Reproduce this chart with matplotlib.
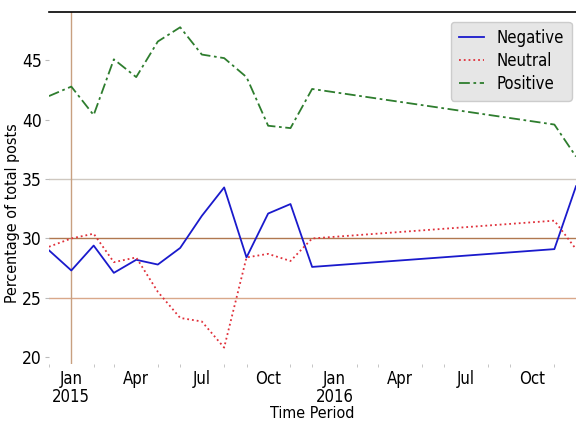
import matplotlib
matplotlib.use("Agg")
import matplotlib.pyplot as plt
import matplotlib.dates as mdates
import pandas as pd
import numpy as np

months = ["2014-12", "2015-01", "2015-02", "2015-03", "2015-04", "2015-05", "2015-06",
          "2015-07", "2015-08", "2015-09", "2015-10", "2015-11", "2015-12",
          "2016-11", "2016-12"]
negative = [29.0, 27.3, 29.4, 27.1, 28.2, 27.8, 29.2, 31.9, 34.3, 28.4, 32.1, 32.9, 27.6, 29.1, 34.4]
neutral = [29.3, 30.0, 30.4, 28.0, 28.4, 25.5, 23.3, 23.0, 20.8, 28.4, 28.7, 28.1, 30.0, 31.5, 29.1]
positive = [42.0, 42.8, 40.4, 45.1, 43.6, 46.6, 47.8, 45.5, 45.2, 43.6, 39.5, 39.3, 42.6, 39.6, 36.9]

tick_dates = ["2015-01", "2015-04", "2015-07", "2015-10", "2016-01", "2016-04", "2016-07", "2016-10"]
tick_labels = ["Jan\n2015", "Apr", "Jul", "Oct", "Jan\n2016", "Apr", "Jul", "Oct"]
yticks = [20, 25, 30, 35, 40, 45]

dates = pd.to_datetime(months)

plt.rcParams['font.family'] = ['DejaVu Sans']
fig = plt.figure(figsize=(5.76, 4.23), dpi=100)
ax = fig.add_axes([0.085, 0.139, 0.915, 0.833])

ax.plot(dates, negative, color="#1a1acc", lw=1.3, ls="-", label="Negative")
ax.plot(dates, neutral, color="#e0303a", lw=1.3, ls=":", label="Neutral")
ax.plot(dates, positive, color="#2e7d2e", lw=1.3, ls=(0, (6, 2, 1.5, 2)), label="Positive")

for v, c in [(25, "#d9a88a"), (30, "#b07850"), (35, "#cfc8c0")]:
    ax.axhline(v, color=c, lw=1.0, zorder=0)
ax.axvline(pd.Timestamp("2015-01"), color="#c8a080", lw=1.0, zorder=0)

ax.set_xlim(pd.Timestamp("2014-12"), pd.Timestamp("2016-12"))
ax.set_ylim(19.4, 49.1)
ax.set_yticks(yticks)
ax.set_yticklabels([str(t) for t in yticks], fontsize=12.5, fontstretch="condensed")
ax.set_xticks(pd.to_datetime(tick_dates))
ax.set_xticklabels(tick_labels, fontsize=12, fontstretch="condensed", linespacing=1.0)
ax.xaxis.set_minor_locator(mdates.MonthLocator())
ax.tick_params(axis="x", which="major", length=0, pad=4)
ax.tick_params(axis="y", which="major", length=3, width=0.8, color="#bbbbbb", pad=2)
ax.tick_params(axis="x", which="minor", length=2, color="#bbbbbb")

for s in ["left", "right", "bottom"]:
    ax.spines[s].set_visible(False)
ax.spines["top"].set_color("black")
ax.spines["top"].set_linewidth(1.2)

ax.set_xlabel("Time Period", fontsize=11.5, fontstretch="condensed", labelpad=0)
ax.set_ylabel("Percentage of total posts", fontsize=11.5, fontstretch="condensed")
ax.yaxis.set_label_coords(-0.055, 0.43)

leg = ax.legend(loc="upper right", bbox_to_anchor=(0.992, 0.972), borderaxespad=0,
                handlelength=1.5, labelspacing=0.3, borderpad=0.45,
                handletextpad=0.8, frameon=True, fancybox=True,
                prop={"stretch": "condensed", "size": 12})
leg.get_frame().set_facecolor("#e6e6e6")
leg.get_frame().set_edgecolor("#cccccc")
leg.get_frame().set_alpha(1.0)

fig.savefig("out.png", dpi=100)
